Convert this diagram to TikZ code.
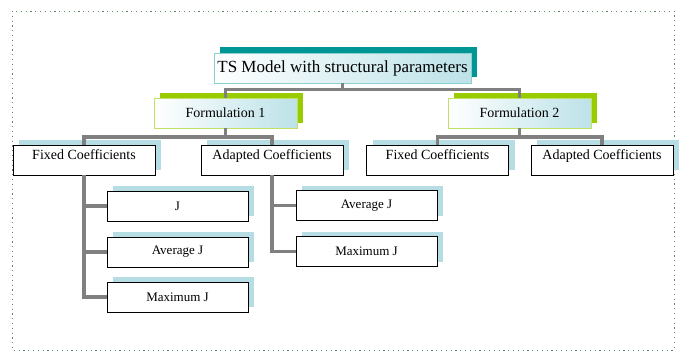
\documentclass[tikz,border=0pt]{standalone}
\usepackage{fontspec}
\setmainfont{Liberation Serif}
\usetikzlibrary{shadows}
\definecolor{DarkTeal}{RGB}{0,150,150}
\definecolor{LightTeal}{RGB}{188,226,232}
\definecolor{LimeGreen}{RGB}{153,204,0}
\definecolor{ShadowBlue}{RGB}{183,221,228}
\definecolor{FrameGreen}{RGB}{95,135,95}
\tikzstyle{rootBlock}=[draw=DarkTeal!45, line width=0.8pt, left color=white, right color=LightTeal, minimum width=257pt, minimum height=30pt, inner sep=0pt, font=\fontsize{17}{19}\selectfont, general shadow={fill=DarkTeal, shadow xshift=6pt, shadow yshift=6pt}]
\tikzstyle{formBlock}=[draw=LimeGreen!60, line width=0.8pt, left color=white, right color=LightTeal, minimum width=143pt, minimum height=30pt, inner sep=0pt, font=\fontsize{14}{16}\selectfont, general shadow={fill=LimeGreen, shadow xshift=6pt, shadow yshift=5pt}]
\tikzstyle{coefBlock}=[draw, fill=white, minimum width=142pt, minimum height=30pt, inner sep=0pt, text depth=10pt, font=\fontsize{14}{16}\selectfont, general shadow={fill=ShadowBlue, shadow xshift=6pt, shadow yshift=5pt}]
\tikzstyle{critBlock}=[draw, fill=white, minimum width=141pt, minimum height=30pt, inner sep=0pt, font=\fontsize{13}{15}\selectfont, general shadow={fill=ShadowBlue, shadow xshift=6pt, shadow yshift=5pt}]
\tikzstyle{branch}=[draw=gray, line width=3.6pt]
\tikzstyle{outerFrame}=[draw=FrameGreen, line width=0.8pt, dash pattern=on 1.2pt off 3.6pt]

\begin{document}
\begin{tikzpicture}[x=1pt, y=-1pt]
    \useasboundingbox (0,0) rectangle (681,351);
    \draw[outerFrame] (12,11) rectangle (674,350);

    % Root
    \node[rootBlock] (root) at (342.5,68) {TS Model with structural parameters};

    % Formulations
    \node[formBlock] (form1) at (225.5,113) {Formulation 1};
    \node[formBlock] (form2) at (519.5,113) {Formulation 2};
    \draw[branch] (root.south) -- ++(0,6) -| (form1.north);
    \draw[branch] (root.south) -- ++(0,6) -| (form2.north);

    % Coefficients
    \node[coefBlock] (fixed1) at (84,160) {Fixed Coefficients};
    \node[coefBlock] (adapt1) at (272,160) {Adapted Coefficients};
    \node[coefBlock] (fixed2) at (437.5,160) {Fixed Coefficients};
    \node[coefBlock] (adapt2) at (602,160) {Adapted Coefficients};
    \draw[branch] (form1.south) -- ++(0,8.5) -| (fixed1.north);
    \draw[branch] (form1.south) -- ++(0,8.5) -| (adapt1.north);
    \draw[branch] (form2.south) -- ++(0,8.5) -| (fixed2.north);
    \draw[branch] (form2.south) -- ++(0,8.5) -| (adapt2.north);

    % Criteria under fixed coefficients
    \node[critBlock] (fixJ) at (177.5,206) {J};
    \node[critBlock] (fixAvg) at (177.5,252) {Average J};
    \node[critBlock] (fixMax) at (177.5,297) {Maximum J};
    \draw[branch] (fixed1.south) |- (fixJ.west);
    \draw[branch] (fixed1.south) |- (fixAvg.west);
    \draw[branch] (fixed1.south) |- (fixMax.west);

    % Criteria under adapted coefficients
    \node[critBlock] (adaAvg) at (366.5,205.5) {Average J};
    \node[critBlock] (adaMax) at (366.5,251.5) {Maximum J};
    \draw[branch] (adapt1.south) |- (adaAvg.west);
    \draw[branch] (adapt1.south) |- (adaMax.west);

\end{tikzpicture}
\end{document}
